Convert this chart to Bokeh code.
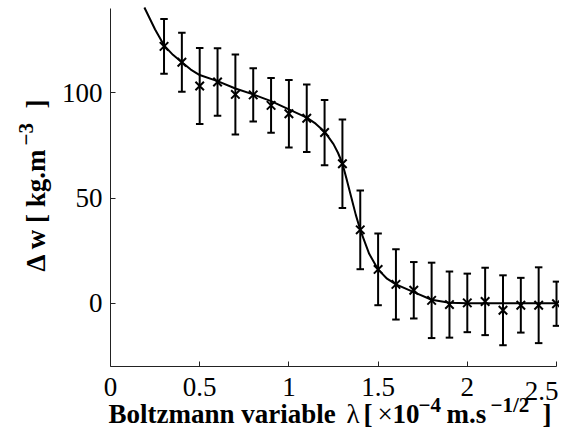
import numpy as np
from bokeh.plotting import figure
from bokeh.models import Range1d, FixedTicker, Label
from bokeh.embed import file_html
from bokeh.resources import INLINE

# ---- data ----
lam = [0.3, 0.4, 0.5, 0.6, 0.7, 0.8, 0.9, 1.0, 1.1, 1.2, 1.3, 1.4, 1.5, 1.6,
       1.7, 1.8, 1.9, 2.0, 2.1, 2.2, 2.3, 2.4, 2.5]
dw = [122.0, 114.5, 103.2, 105.1, 99.2, 99.0, 94.0, 90.0, 87.9, 81.1, 66.3,
      34.9, 16.1, 9.0, 6.2, 1.4, -0.6, 0.2, 0.9, -3.3, -0.9, -0.9, -0.2]
err = [13.0, 14.0, 18.0, 16.0, 19.0, 12.6, 13.0, 16.0, 16.0, 15.5, 21.0,
       18.7, 17.0, 16.7, 13.4, 17.9, 15.7, 13.9, 16.0, 16.6, 13.0, 18.0, 10.5]

fit_lam = [0.19, 0.25, 0.3, 0.35, 0.4, 0.45, 0.5, 0.6, 0.7, 0.8, 0.9,
           1.0, 1.1, 1.15, 1.2, 1.25, 1.275, 1.3, 1.325, 1.35, 1.375, 1.4,
           1.45, 1.5, 1.55, 1.6, 1.7, 1.8, 1.9, 2.0, 2.1, 2.2, 2.3, 2.4, 2.5]
fit_dw = [140.5, 130.0, 122.5, 118.0, 114.5, 111.0, 108.4, 105.5,
          102.0, 99.2, 96.0, 92.1, 88.2, 85.3, 81.5, 75.6, 71.5, 66.4, 58.5,
          50.3, 42.0, 34.9, 23.5, 16.1, 11.7, 9.0, 5.3, 1.7, 0.3, 0.0, 0.0,
          0.0, 0.0, 0.0, 0.0]

x_ticks = [0, 0.5, 1, 1.5, 2, 2.5]
y_ticks = [0, 50, 100]
x_lim = (0.0, 2.5)
y_lim = (-30.0, 140.0)

# ---- layout (canvas pixels) ----
W, H = 559, 428
AX_L, AX_R = 110, 556     # pixel columns of x = 0 and x = 2.5
AX_B, AX_T = 366, 8       # pixel rows of y = -30 and y = 140
sx = (AX_R - AX_L) / (x_lim[1] - x_lim[0])
sy = (AX_B - AX_T) / (y_lim[1] - y_lim[0])
x_start = x_lim[0] - AX_L / sx
x_end = x_lim[0] + (W - AX_L) / sx
y_start = y_lim[0] - (H - AX_B) / sy
y_end = y_lim[0] + AX_B / sy

p = figure(width=W, height=H, x_range=Range1d(x_start, x_end),
           y_range=Range1d(y_start, y_end),
           output_backend="svg", toolbar_location=None,
           min_border=0, min_border_left=0, min_border_right=0,
           min_border_top=0, min_border_bottom=0)
p.title.visible = False
p.outline_line_color = None
p.xgrid.visible = False
p.ygrid.visible = False
p.background_fill_color = "white"
p.border_fill_color = "white"

TICK_FONT = "27px"
xa = p.xaxis[0]
ya = p.yaxis[0]
xa.fixed_location = y_lim[0]
ya.fixed_location = x_lim[0]
xa.bounds = x_lim
ya.bounds = y_lim
for ax, ticks in ((xa, x_ticks), (ya, y_ticks)):
    ax.ticker = FixedTicker(ticks=ticks)
    ax.major_tick_in = 5
    ax.major_tick_out = 0
    ax.minor_tick_line_color = None
    ax.axis_line_color = "#222222"
    ax.major_tick_line_color = "#222222"
    ax.axis_line_width = 1
    ax.major_label_text_font = "Liberation Serif"
    ax.major_label_text_font_size = TICK_FONT
    ax.major_label_text_color = "black"
xa.major_label_standoff = 11
ya.major_label_standoff = 8
xa.major_label_overrides = {0: "0", 1: "1", 2: "2", 2.5: ""}

# ---- error bars ----
lam_a = np.array(lam)
dw_a = np.array(dw)
err_a = np.array(err)
cap = 0.021
p.segment(x0=lam_a, y0=dw_a - err_a, x1=lam_a, y1=dw_a + err_a,
          line_color="black", line_width=2)
p.segment(x0=lam_a - cap, y0=dw_a + err_a, x1=lam_a + cap, y1=dw_a + err_a,
          line_color="black", line_width=2)
p.segment(x0=lam_a - cap, y0=dw_a - err_a, x1=lam_a + cap, y1=dw_a - err_a,
          line_color="black", line_width=2)

# ---- fitted curve ----
p.line(fit_lam, fit_dw, line_color="black", line_width=2)

# ---- markers ----
p.scatter(lam, dw, marker="x", size=12, line_color="black", line_width=2)


# ---- texts placed in canvas pixels ----
FIX = 9  # rendered alphabetic baseline sits this much lower than the anchor


def to_data(cx, cy):
    return (x_lim[0] + (cx - AX_L) / sx, y_lim[0] + (AX_B - cy) / sy)


def put(text, cx, cy, size, bold=True, angle=0.0, align="left"):
    if angle == 0.0:
        cy -= FIX
    else:
        cx -= FIX
    x, y = to_data(cx, cy)
    p.add_layout(Label(x=x, y=y, text=text, text_font="Liberation Serif",
                       text_font_size=size,
                       text_font_style="bold" if bold else "normal",
                       text_color="black", text_align=align,
                       text_baseline="alphabetic", angle=angle))


# last x tick label, kept inside the canvas
put("2.5", W - 1, 399, TICK_FONT, bold=False, align="right")

MAIN = "27px"
SUP = "21px"
xb = 422
sup = 9
put("Boltzmann variable", 108, xb, MAIN)
put("λ", 346, xb, MAIN, bold=False)
put("[", 363, xb, MAIN)
put("×", 377, xb, MAIN, bold=False)
put("10", 392, xb, MAIN)
put("−4", 418, xb - sup, SUP)
put("m.s", 446, xb, MAIN)
put("−1/2", 490, xb - sup, SUP)
put("]", 542, xb, MAIN)

yb = 44
put("Δ w [ kg.m", yb, 271, MAIN, angle=np.pi / 2)
put("−3", yb - 10, 145, SUP, angle=np.pi / 2)
put("]", yb, 108, MAIN, angle=np.pi / 2)

open("out.html", "w").write(file_html(p, INLINE))
